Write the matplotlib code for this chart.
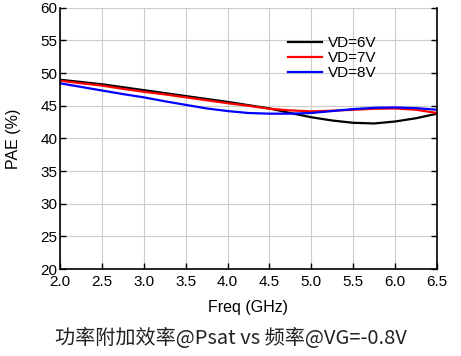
import matplotlib
matplotlib.use('Agg')
import matplotlib.pyplot as plt

freq = [2.0, 2.25, 2.5, 2.75, 3.0, 3.25, 3.5, 3.75, 4.0, 4.25, 4.5,
        4.75, 5.0, 5.25, 5.5, 5.75, 6.0, 6.25, 6.5]
pae_6v = [49.0, 48.65, 48.3, 47.85, 47.4, 46.95, 46.5, 46.05, 45.6, 45.1, 44.6,
          43.9, 43.25, 42.75, 42.4, 42.3, 42.6, 43.1, 43.8]
pae_7v = [48.85, 48.45, 48.1, 47.6, 47.15, 46.75, 46.3, 45.85, 45.4, 45.0, 44.55,
          44.3, 44.15, 44.25, 44.4, 44.55, 44.6, 44.4, 43.9]
pae_8v = [48.45, 47.9, 47.35, 46.8, 46.3, 45.7, 45.15, 44.6, 44.2, 43.9, 43.8,
          43.8, 43.9, 44.2, 44.5, 44.7, 44.75, 44.65, 44.4]
labels = ['VD=6V', 'VD=7V', 'VD=8V']
colors = ['black', 'red', 'blue']

plt.rcParams['font.family'] = ['Liberation Sans', 'DejaVu Sans']

fig = plt.figure(figsize=(4.61, 3.56), dpi=100)
ax = fig.add_axes([0.130, 0.244, 0.818, 0.734])

for ys, lab, c in zip([pae_6v, pae_7v, pae_8v], labels, colors):
    ax.plot(freq, ys, color=c, lw=1.6, label=lab)

ax.set_xlim(2.0, 6.5)
ax.set_ylim(20, 60)
ax.set_xticks([2.0, 2.5, 3.0, 3.5, 4.0, 4.5, 5.0, 5.5, 6.0, 6.5])
ax.set_xticklabels(['%.1f' % v for v in ax.get_xticks()])
ax.set_yticks(range(20, 61, 5))
ax.grid(True, color='#cccccc', lw=0.8)
ax.tick_params(direction='in', length=4, width=1, right=True, labelsize=11)
ax.tick_params(axis='y', pad=2)
ax.tick_params(axis='x', pad=4)
ax.spines['top'].set_visible(False)
for s in ['left', 'bottom', 'right']:
    ax.spines[s].set_linewidth(1.2)

ax.set_xlabel('Freq (GHz)', fontsize=11.5, labelpad=8)
ax.set_ylabel('PAE (%)', fontsize=11.5, labelpad=14)

ax.legend(loc='upper right', bbox_to_anchor=(0.86, 0.92), frameon=False,
          fontsize=11, handlelength=2.2, labelspacing=0.05, borderpad=0, handletextpad=0.4)

fig.text(0.5, 0.048, '功率附加效率@Psat vs 频率@VG=-0.8V', ha='center', va='center',
         fontsize=14.5, family=['Noto Sans CJK SC', 'DejaVu Sans'], color='#222222')

fig.savefig('out.png', dpi=100)
